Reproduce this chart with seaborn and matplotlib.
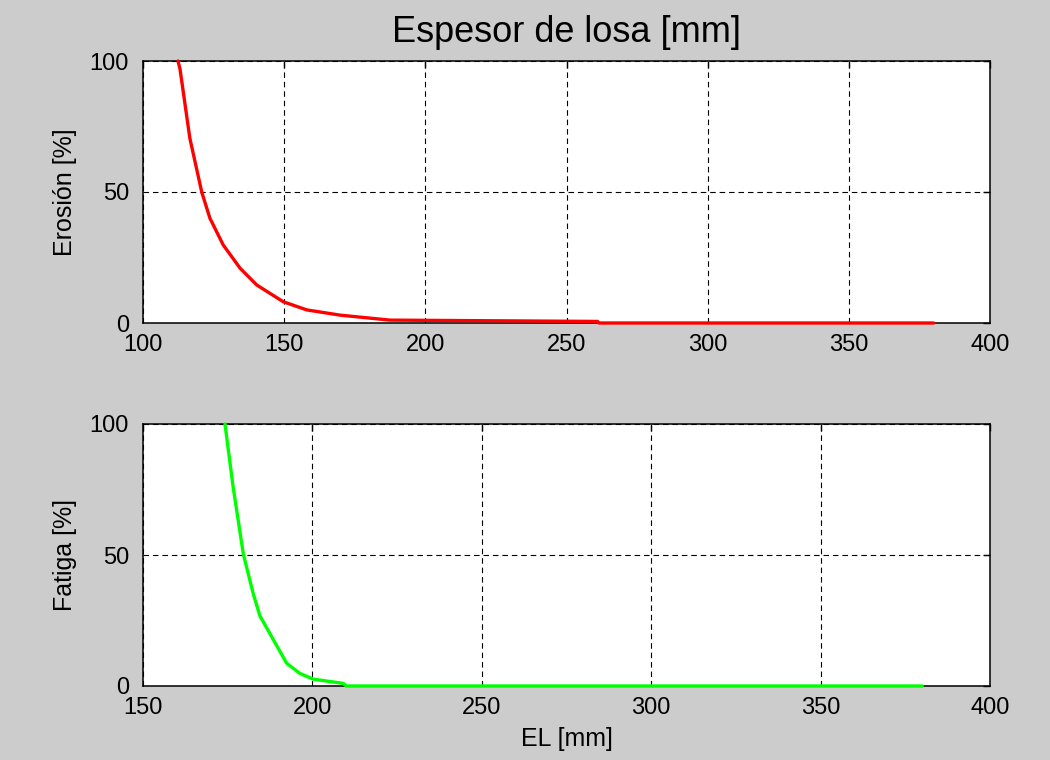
import matplotlib
matplotlib.use("Agg")
import matplotlib.pyplot as plt
import seaborn as sns
import pandas as pd

# --- data ---
erosion_x = [112.4, 113.1, 116.6, 120.8, 123.7, 128.4, 134.4, 140.3, 149.7, 158.0,
             169.8, 187.5, 261.0, 261.5, 380.0]
erosion_y = [100.0, 97.0, 70.5, 50.0, 40.0, 29.8, 20.9, 14.5, 8.1, 5.0,
             3.0, 1.1, 0.6, 0.0, 0.0]

fatiga_x = [174.2, 176.6, 179.6, 182.5, 184.5, 188.5, 192.4, 196.3, 200.3, 209.1,
            210.0, 380.0]
fatiga_y = [100.0, 76.0, 50.5, 35.4, 26.8, 17.6, 8.7, 4.8, 2.6, 1.0,
            0.0, 0.0]

top_xticks = [100, 150, 200, 250, 300, 350, 400]
bot_xticks = [150, 200, 250, 300, 350, 400]
yticks = [0, 50, 100]

title = "Espesor de losa [mm]"
ylabel_top = "Erosión [%]"
ylabel_bot = "Fatiga [%]"
xlabel_bot = "EL [mm]"

sns.set_style("white")
plt.rcParams['font.family'] = ['Liberation Sans', 'DejaVu Sans']
plt.rcParams['text.color'] = 'black'
plt.rcParams['axes.labelcolor'] = 'black'

bg = "#cccccc"
fig = plt.figure(figsize=(10.5, 7.6), dpi=100, facecolor=bg)
W, H = 1050, 760
ax1 = fig.add_axes([143 / W, 1 - 323 / H, (990 - 143) / W, (323 - 61) / H])
ax2 = fig.add_axes([143 / W, 1 - 686 / H, (990 - 143) / W, (686 - 424) / H])

df1 = pd.DataFrame({"x": erosion_x, "y": erosion_y})
df2 = pd.DataFrame({"x": fatiga_x, "y": fatiga_y})

sns.lineplot(data=df1, x="x", y="y", ax=ax1, color="#ff0000", linewidth=2.4,
             sort=False, estimator=None)
sns.lineplot(data=df2, x="x", y="y", ax=ax2, color="#00ff00", linewidth=2.4,
             sort=False, estimator=None)

for ax, xt, (xmin, xmax) in [(ax1, top_xticks, (100, 400)), (ax2, bot_xticks, (150, 400))]:
    ax.set_facecolor("white")
    ax.set_xlim(xmin, xmax)
    ax.set_ylim(0, 100)
    ax.set_xticks(xt)
    ax.set_yticks(yticks)
    ax.grid(True, color="black", linestyle=(0, (5, 3.5)), linewidth=0.8)
    for s in ax.spines.values():
        s.set_visible(True)
        s.set_color("black")
        s.set_linewidth(1.1)
    ax.tick_params(direction="in", length=5, width=1, colors="black",
                   labelsize=17, top=True, right=True)
    ax.tick_params(axis="x", pad=8)
    ax.tick_params(axis="y", pad=10)
    for line in ax.get_lines():
        line.set_clip_on(False)
        line.set_zorder(5)

ax1.set_xlabel("")
ax1.set_ylabel(ylabel_top, fontsize=18, labelpad=9, color="black")
ax2.set_xlabel(xlabel_bot, fontsize=18, labelpad=6, color="black")
ax2.set_ylabel(ylabel_bot, fontsize=18, labelpad=9, color="black")
ax1.set_title(title, fontsize=26, pad=14, color="black")

fig.savefig("out.png", dpi=100, facecolor=bg)
